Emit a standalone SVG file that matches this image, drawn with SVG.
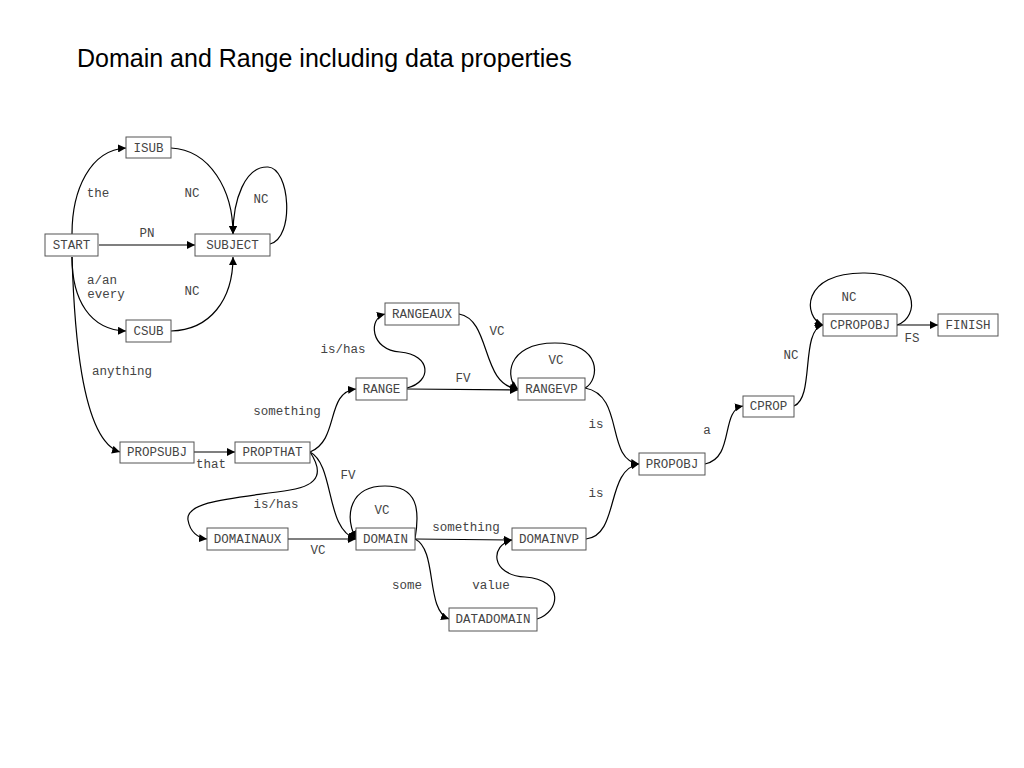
<svg xmlns="http://www.w3.org/2000/svg" width="1024" height="768" viewBox="0 0 1024 768">
<style>
.n rect{fill:#fff;stroke:#555;stroke-width:1}
.n text{font-family:"Liberation Mono",monospace;font-size:12.5px;fill:#444;text-anchor:middle}
.e path{fill:none;stroke:#000;stroke-width:1.2}
.l{font-family:"Liberation Mono",monospace;font-size:12.5px;fill:#444;text-anchor:middle}
.t{font-family:"Liberation Sans",Arial,sans-serif;font-size:25px;fill:#000}
</style>
<defs>
<marker id="a" viewBox="0 0 10 10" refX="10" refY="5" markerWidth="8" markerHeight="8" markerUnits="userSpaceOnUse" orient="auto"><path d="M0,0L10,5L0,10z" fill="#000"/></marker>
</defs>
<rect width="1024" height="768" fill="#fff"/>
<text class="t" x="77" y="67">Domain and Range including data properties</text>
<g class="e">
<path d="M72,234 C72,190 90,150 126,148" marker-end="url(#a)"/>
<path d="M99,245 L195,245" marker-end="url(#a)"/>
<path d="M72,257 C72,300 90,330 126,331" marker-end="url(#a)"/>
<path d="M171,148 C210,150 233,190 233,234" marker-end="url(#a)"/>
<path d="M171,331 C210,330 233,300 233,257" marker-end="url(#a)"/>
<path d="M270,244 C295,238 290,168 268,167 C245,166 233,200 233,234" marker-end="url(#a)"/>
<path d="M72,257 C74,320 80,440 120,452" marker-end="url(#a)"/>
<path d="M194,452 L235,452" marker-end="url(#a)"/>
<path d="M310,452 C340,440 325,392 356,389" marker-end="url(#a)"/>
<path d="M310,452 C335,465 325,530 356,539" marker-end="url(#a)"/>
<path d="M310,452 C322,470 322,485 290,490 C240,498 185,500 188,520 C190,532 198,538 207,539" marker-end="url(#a)"/>
<path d="M288,539 L356,539" marker-end="url(#a)"/>
<path d="M415,539 C420,510 418,486 385,486 C350,486 344,515 356,539" marker-end="url(#a)"/>
<path d="M415,539 L512,540" marker-end="url(#a)"/>
<path d="M415,539 C438,550 425,610 449,619" marker-end="url(#a)"/>
<path d="M537,619 C560,612 565,580 525,577 C490,575 490,545 512,540" marker-end="url(#a)"/>
<path d="M407,389 L518,390" marker-end="url(#a)"/>
<path d="M407,388 C432,382 432,355 400,352 C370,350 368,318 385,314" marker-end="url(#a)"/>
<path d="M459,314 C492,320 480,385 518,389" marker-end="url(#a)"/>
<path d="M585,388 C600,380 602,343 555,343 C505,343 505,380 518,389" marker-end="url(#a)"/>
<path d="M585,388 C625,395 605,460 639,464" marker-end="url(#a)"/>
<path d="M586,539 C620,535 605,470 639,464" marker-end="url(#a)"/>
<path d="M705,464 C735,458 720,410 743,406" marker-end="url(#a)"/>
<path d="M794,406 C815,398 800,330 823,325" marker-end="url(#a)"/>
<path d="M897,325 C920,318 920,274 865,273 C800,272 803,318 823,325" marker-end="url(#a)"/>
<path d="M897,325 L938,325" marker-end="url(#a)"/>
</g>
<g class="lbls">
<text class="l" x="98" y="197">the</text>
<text class="l" x="192" y="197">NC</text>
<text class="l" x="261" y="203">NC</text>
<text class="l" x="147" y="237">PN</text>
<text class="l" x="102" y="284">a/an</text>
<text class="l" x="106" y="298">every</text>
<text class="l" x="192" y="295">NC</text>
<text class="l" x="122" y="375">anything</text>
<text class="l" x="211" y="468">that</text>
<text class="l" x="287" y="415">something</text>
<text class="l" x="348" y="479">FV</text>
<text class="l" x="276" y="508">is/has</text>
<text class="l" x="318" y="554">VC</text>
<text class="l" x="343" y="353">is/has</text>
<text class="l" x="497" y="335">VC</text>
<text class="l" x="463" y="382">FV</text>
<text class="l" x="556" y="364">VC</text>
<text class="l" x="382" y="514">VC</text>
<text class="l" x="466" y="531">something</text>
<text class="l" x="407" y="589">some</text>
<text class="l" x="491" y="589">value</text>
<text class="l" x="596" y="428">is</text>
<text class="l" x="596" y="497">is</text>
<text class="l" x="707" y="434">a</text>
<text class="l" x="791" y="359">NC</text>
<text class="l" x="849" y="301">NC</text>
<text class="l" x="912" y="342">FS</text>
</g>
<g id="START" class="n"><rect x="45" y="234" width="53" height="22"/><text x="71.5" y="249">START</text></g>
<g id="ISUB" class="n"><rect x="126" y="137" width="45" height="21"/><text x="148.5" y="152">ISUB</text></g>
<g id="SUBJECT" class="n"><rect x="195" y="234" width="75" height="22"/><text x="232.5" y="249">SUBJECT</text></g>
<g id="CSUB" class="n"><rect x="126" y="320" width="45" height="22"/><text x="148.5" y="335">CSUB</text></g>
<g id="PROPSUBJ" class="n"><rect x="120" y="442" width="74" height="21"/><text x="157" y="456">PROPSUBJ</text></g>
<g id="PROPTHAT" class="n"><rect x="235" y="442" width="75" height="21"/><text x="272.5" y="456">PROPTHAT</text></g>
<g id="RANGEAUX" class="n"><rect x="385" y="303" width="74" height="22"/><text x="422" y="318">RANGEAUX</text></g>
<g id="RANGE" class="n"><rect x="356" y="378" width="51" height="22"/><text x="381.5" y="393">RANGE</text></g>
<g id="RANGEVP" class="n"><rect x="518" y="378" width="67" height="22"/><text x="551.5" y="393">RANGEVP</text></g>
<g id="DOMAINAUX" class="n"><rect x="207" y="528" width="81" height="22"/><text x="247.5" y="543">DOMAINAUX</text></g>
<g id="DOMAIN" class="n"><rect x="356" y="528" width="59" height="22"/><text x="385.5" y="543">DOMAIN</text></g>
<g id="DOMAINVP" class="n"><rect x="512" y="528" width="74" height="22"/><text x="549" y="543">DOMAINVP</text></g>
<g id="DATADOMAIN" class="n"><rect x="449" y="608" width="88" height="23"/><text x="493" y="623">DATADOMAIN</text></g>
<g id="PROPOBJ" class="n"><rect x="639" y="453" width="66" height="22"/><text x="672" y="468">PROPOBJ</text></g>
<g id="CPROP" class="n"><rect x="743" y="396" width="51" height="21"/><text x="768.5" y="410">CPROP</text></g>
<g id="CPROPOBJ" class="n"><rect x="823" y="314" width="74" height="22"/><text x="860" y="329">CPROPOBJ</text></g>
<g id="FINISH" class="n"><rect x="938" y="314" width="60" height="22"/><text x="968" y="329">FINISH</text></g>
</svg>
